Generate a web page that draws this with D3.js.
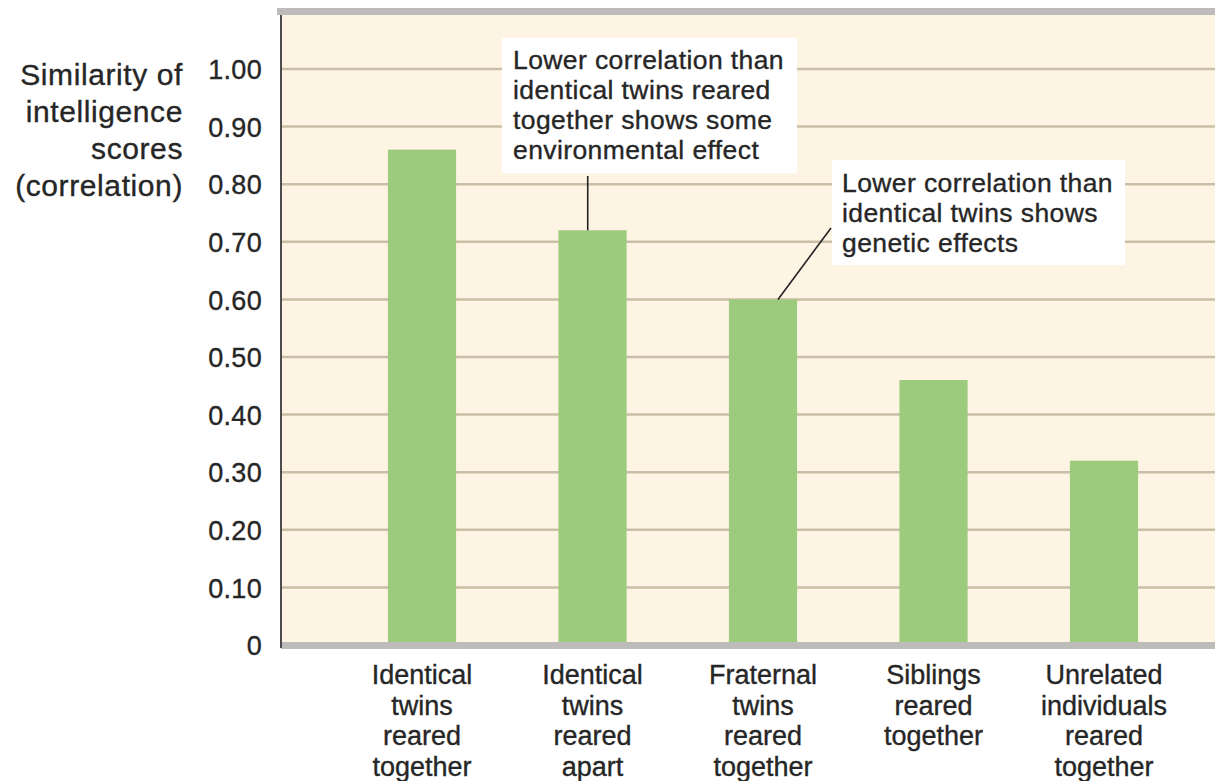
<!DOCTYPE html>
<html>
<head>
<meta charset="utf-8">
<script src="https://cdn.jsdelivr.net/npm/d3@7"></script>
<style>
  html, body { margin: 0; padding: 0; background: #ffffff; }
  svg { display: block; }
  text { font-family: "Liberation Sans", Arial, sans-serif; fill: #262626; stroke: #262626; stroke-width: 0.35px; }
</style>
</head>
<body>
<svg id="chart" width="1215" height="781"></svg>
<script>
// ---- data ----
const categories = [
  ["Identical", "twins", "reared", "together"],
  ["Identical", "twins", "reared", "apart"],
  ["Fraternal", "twins", "reared", "together"],
  ["Siblings", "reared", "together"],
  ["Unrelated", "individuals", "reared", "together"]
];
const categoryKeys = ["itt", "ita", "ftt", "srt", "urt"];
const values = [0.86, 0.72, 0.60, 0.46, 0.32];
const tickValues = [0, 0.1, 0.2, 0.3, 0.4, 0.5, 0.6, 0.7, 0.8, 0.9, 1.0];
const tickLabels = ["0", "0.10", "0.20", "0.30", "0.40", "0.50", "0.60", "0.70", "0.80", "0.90", "1.00"];
const yTitle = ["Similarity of", "intelligence", "scores", "(correlation)"];
const note1 = ["Lower correlation than", "identical twins reared", "together shows some", "environmental effect"];
const note2 = ["Lower correlation than", "identical twins shows", "genetic effects"];

// ---- layout ----
const svg = d3.select("#chart");
const plotLeft = 281, plotRight = 1215, plotTop = 15, zeroY = 645;

const y = d3.scaleLinear().domain([0, 1]).range([zeroY, 69]);
const x = d3.scaleBand().domain(categoryKeys);
(function () {
  const step = 170.5, n = categoryKeys.length;
  const firstCenter = 422;
  const inner = 0.6, outer = 0.3;
  const start = firstCenter - step * (outer + (1 - inner) / 2);
  const end = start + step * (n - inner + 2 * outer);
  x.range([start, end]).paddingInner(inner).paddingOuter(outer);
})();

// top gray band
svg.append("rect").attr("x", plotLeft - 4).attr("y", 8).attr("width", 1215 - plotLeft + 4).attr("height", 7).attr("fill", "#bdbcbb");
// cream plot background
svg.append("rect").attr("x", plotLeft).attr("y", plotTop).attr("width", plotRight - plotLeft).attr("height", zeroY - plotTop).attr("fill", "#fef4e4");

// gridlines
svg.append("g").selectAll("line").data(tickValues.filter(d => d > 0)).join("line")
  .attr("x1", plotLeft).attr("x2", plotRight)
  .attr("y1", d => y(d)).attr("y2", d => y(d))
  .attr("stroke", "#cbbea6").attr("stroke-width", 2.5);

// bars
svg.append("g").selectAll("rect").data(values).join("rect")
  .attr("x", (d, i) => x(categoryKeys[i]))
  .attr("width", x.bandwidth())
  .attr("y", d => y(d))
  .attr("height", d => zeroY - y(d))
  .attr("fill", "#9ccb7e");

// bottom gray band
svg.append("rect").attr("x", plotLeft).attr("y", zeroY - 3).attr("width", plotRight - plotLeft).attr("height", 7).attr("fill", "#bdbcbb");

// left axis line
svg.append("line").attr("x1", plotLeft).attr("x2", plotLeft).attr("y1", plotTop).attr("y2", zeroY + 3)
  .attr("stroke", "#4d4d4d").attr("stroke-width", 2);

// y tick labels
const yAxis = d3.axisLeft(y).tickValues(tickValues).tickFormat((d, i) => tickLabels[i]).tickSize(0).tickPadding(0);
const gy = svg.append("g").attr("transform", `translate(262,0)`).call(yAxis);
gy.select(".domain").remove();
gy.selectAll("text").attr("font-size", 27).attr("font-family", "Liberation Sans").attr("fill", "#262626")
  .attr("letter-spacing", 0.3).attr("dy", "0.36em");

// y title
svg.append("text").attr("text-anchor", "end").attr("font-size", 30).attr("letter-spacing", 0.6)
  .selectAll("tspan").data(yTitle).join("tspan")
  .attr("x", 183).attr("y", (d, i) => 85 + i * 37).text(d => d);

// x labels
const xl = svg.append("g");
categories.forEach((lines, i) => {
  const cx = x(categoryKeys[i]) + x.bandwidth() / 2;
  xl.append("text").attr("text-anchor", "middle").attr("font-size", 27)
    .selectAll("tspan").data(lines).join("tspan")
    .attr("x", cx).attr("y", (d, j) => 684 + j * 30.5).text(d => d);
});

// annotation 1
const b1 = { x: 502, y: 38, w: 295, h: 135 };
svg.append("rect").attr("x", b1.x).attr("y", b1.y).attr("width", b1.w).attr("height", b1.h).attr("fill", "#ffffff");
svg.append("text").attr("font-size", 26.5).attr("letter-spacing", 0.4)
  .selectAll("tspan").data(note1).join("tspan")
  .attr("x", 513).attr("y", (d, i) => 69 + i * 30).text(d => d);
svg.append("line")
  .attr("x1", x(categoryKeys[1]) + x.bandwidth() * 0.43).attr("x2", x(categoryKeys[1]) + x.bandwidth() * 0.43)
  .attr("y1", b1.y + b1.h + 3).attr("y2", y(values[1]))
  .attr("stroke", "#222").attr("stroke-width", 1.6);

// annotation 2
const b2 = { x: 832, y: 160, w: 293, h: 105 };
svg.append("rect").attr("x", b2.x).attr("y", b2.y).attr("width", b2.w).attr("height", b2.h).attr("fill", "#ffffff");
svg.append("text").attr("font-size", 26.5).attr("letter-spacing", 0.4)
  .selectAll("tspan").data(note2).join("tspan")
  .attr("x", 842).attr("y", (d, i) => 192 + i * 30).text(d => d);
svg.append("line")
  .attr("x1", b2.x - 1).attr("y1", 228)
  .attr("x2", x(categoryKeys[2]) + x.bandwidth() * 0.72).attr("y2", y(values[2]))
  .attr("stroke", "#222").attr("stroke-width", 1.6);
</script>
</body>
</html>
